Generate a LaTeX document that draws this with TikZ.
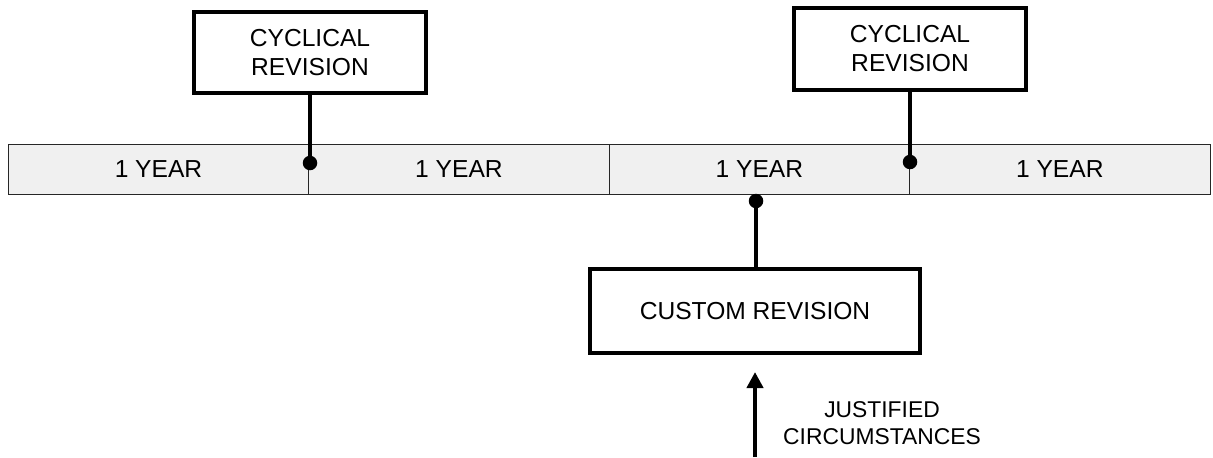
\documentclass[tikz,border=0pt]{standalone}
\usepackage{fontspec}
\setmainfont{Liberation Sans}
\usetikzlibrary{arrows.meta,positioning}
\definecolor{barfill}{HTML}{F0F0F0}

\begin{document}
\begin{tikzpicture}[x=0.02cm, y=-0.02cm,
	font=\fontsize{14}{16.5}\selectfont,
	cell/.style={draw=black!85, line width=0.6pt, fill=barfill, minimum width=6.01cm, minimum height=1.0cm, inner sep=0pt, outer sep=0pt},
	revbox/.style={draw, line width=0.08cm, align=center, inner sep=0pt},
	conn/.style={line width=0.08cm},
	dotmark/.style={circle, fill=black, minimum size=0.29cm, inner sep=0pt}
	]
	% Parameters
	\def\barY{169.5}  % middle of the time bar
	
	\useasboundingbox (0,0) rectangle (1213,457);
	
	% Time bar
	\node[cell] (y1) at (158.5,\barY) {1 YEAR};
	\node[cell, right=0pt of y1] (y2) {1 YEAR};
	\node[cell, right=0pt of y2] (y3) {1 YEAR};
	\node[cell, right=0pt of y3] (y4) {1 YEAR};
	
	% Revision boxes
	\node[revbox, minimum width=4.64cm, minimum height=1.62cm] (cyc1) at (310,52.5) {CYCLICAL\\REVISION};
	\node[revbox, minimum width=4.64cm, minimum height=1.64cm] (cyc2) at (910,49) {CYCLICAL\\REVISION};
	\node[revbox, minimum width=6.62cm, minimum height=1.68cm] (cust) at (755,311) {CUSTOM REVISION};
	
	% Dots on the bar
	\node[dotmark] (d1) at (310,163) {};
	\node[dotmark] (d2) at (910,162) {};
	\node[dotmark] (d3) at (756,201) {};
	
	% Connectors
	\draw[conn] (cyc1.south) -- (d1.center);
	\draw[conn] (cyc2.south) -- (d2.center);
	\draw[conn] (cust.north -| d3) -- (d3.center);
	
	% Incoming arrow
	\coordinate (jbase) at (755,457);
	\coordinate (jtip) at (755,372);
	\draw[conn, -{Triangle[width=0.32cm, length=0.32cm]}] (jbase) -- (jtip);
	\node[align=center, font=\fontsize{13}{15}\selectfont] (just) at (882,423) {JUSTIFIED\\CIRCUMSTANCES};
	
\end{tikzpicture}
\end{document}
